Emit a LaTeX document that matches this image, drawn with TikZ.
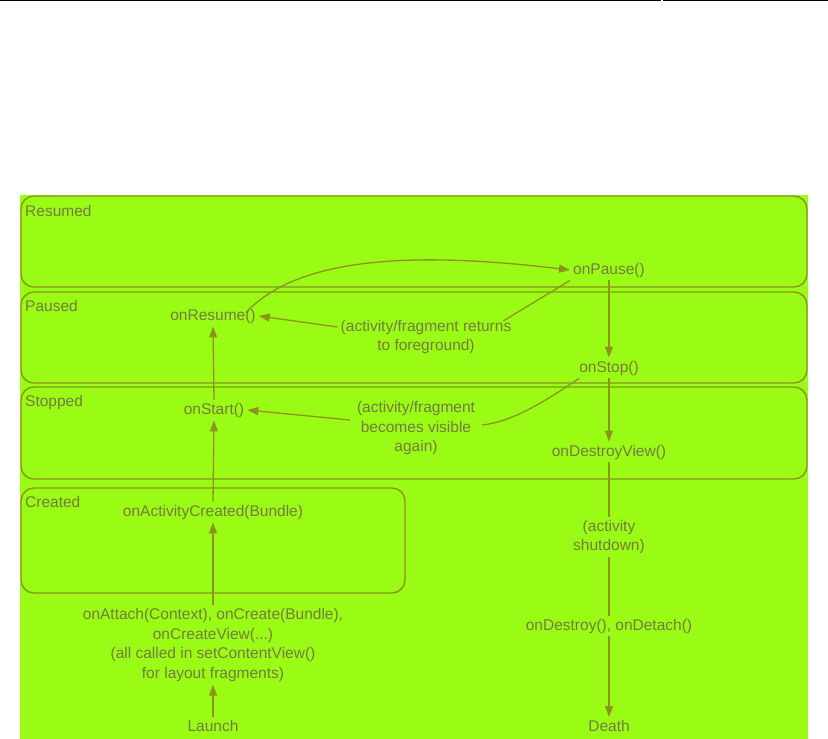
\documentclass[tikz,border=0pt]{standalone}
\usepackage{fontspec}
\setmainfont{Liberation Sans}
\usetikzlibrary{arrows.meta,calc}
\definecolor{bg}{RGB}{154,252,20}
\definecolor{ln}{RGB}{140,148,30}
\definecolor{tx}{RGB}{118,122,66}
\begin{document}
\begin{tikzpicture}[x=1pt,y=-1pt,
  every node/.style={font=\fontsize{15.5}{19.5}\selectfont, text=tx, inner sep=3pt, align=center},
  statebox/.style={draw=ln, line width=1.4pt, rounded corners=13pt},
  lbl/.style={anchor=west, inner sep=0pt},
  conn/.style={draw=ln, line width=1.3pt},
  arr/.style={conn, -{Triangle[length=11pt,width=8pt]}}]
\useasboundingbox (0,0) rectangle (828,739);
\fill[white] (0,0) rectangle (828,739);
\draw[black, line width=1pt] (0,0.5) -- (661,0.5) (663,0.5) -- (828,0.5);
\fill[bg] (20,195) rectangle (808,739);
% state boxes
\draw[statebox] (21,196) rectangle (807,287);
\draw[statebox] (21,292) rectangle (807,383);
\draw[statebox] (21,387) rectangle (807,479);
\draw[statebox] (21,488) rectangle (405,593);
\node[lbl] (lResumed) at (25,211) {Resumed};
\node[lbl] (lPaused) at (25,306) {Paused};
\node[lbl] (lStopped) at (25,402) {Stopped};
\node[lbl] (lCreated) at (25,502) {Created};
% right column
\node (onPause) at (609,270) {onPause()};
\node (onStop) at (609,368) {onStop()};
\node (onDestroyView) at (609,452) {onDestroyView()};
\node (shutdown) at (609,537) {(activity\\shutdown)};
\node (onDestroy) at (609,626) {onDestroy(), onDetach()};
\node (death) at (609,726) {Death};
% left column
\node (onResume) at (213,316) {onResume()};
\node (onStart) at (214,410) {onStart()};
\node (onActCreated) at (213,512) {onActivityCreated(Bundle)};
\node (attach) at (213,645) {onAttach(Context), onCreate(Bundle),\\onCreateView(...)\\(all called in setContentView()\\for layout fragments)};
\node (launch) at (213,726) {Launch};
% comments
\node (ret) at (426,337) {(activity/fragment returns\\to foreground)};
\node (vis) at (416,428) {(activity/fragment\\becomes visible\\again)};
% connectors
\draw[arr] (launch.north) -- (attach.south);
\draw[arr] (attach.north) -- (onActCreated.south);
\draw[arr] (onActCreated.north) -- (onStart.south);
\draw[arr] (onStart.north) -- (onResume.south);
\draw[arr] ($(onResume.north east)+(-13,7)$) .. controls (300,255) and (420,252) .. (onPause.west);
\draw[conn] (onPause.south west) -- ($(ret.north east)+(-11,4)$);
\draw[arr] ($(ret.west)+(0,-10)$) -- (onResume.east);
\draw[arr] (onPause.south) -- (onStop.north);
\draw[conn] ($(onStop.south west)+(3,0)$) .. controls (540,405) and (510,422) .. ($(vis.east)+(4,-3)$);
\draw[arr] ($(vis.west)+(-4,-8)$) -- (onStart.east);
\draw[arr] (onStop.south) -- (onDestroyView.north);
\draw[conn] (onDestroyView.south) -- (shutdown.north);
\draw[conn] (shutdown.south) -- (onDestroy.north);
\draw[arr] (onDestroy.south) -- (death.north);
\end{tikzpicture}
\end{document}
